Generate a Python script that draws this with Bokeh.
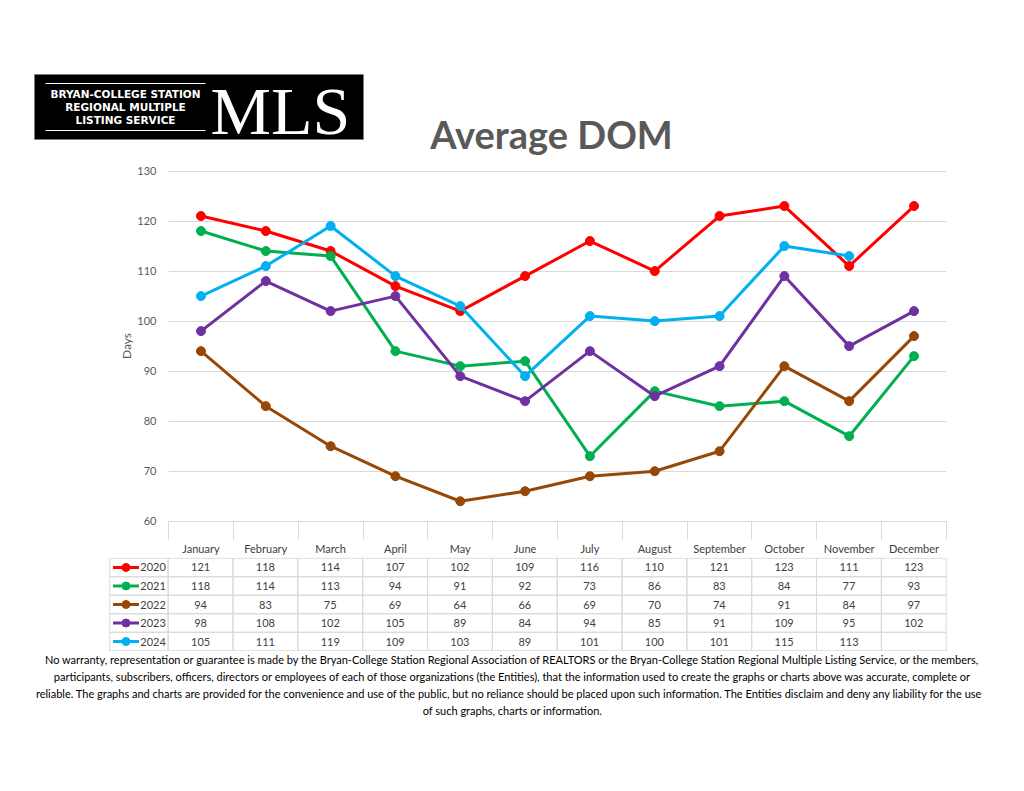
from bokeh.plotting import figure
from bokeh.models import Range1d, FixedTicker, ColumnDataSource
from bokeh.core.properties import value
from bokeh.embed import file_html
from bokeh.resources import INLINE

# ---------------- data ----------------
months = ["January", "February", "March", "April", "May", "June", "July",
          "August", "September", "October", "November", "December"]
years = ["2020", "2021", "2022", "2023", "2024"]
dom_2020 = [121, 118, 114, 107, 102, 109, 116, 110, 121, 123, 111, 123]
dom_2021 = [118, 114, 113, 94, 91, 92, 73, 86, 83, 84, 77, 93]
dom_2022 = [94, 83, 75, 69, 64, 66, 69, 70, 74, 91, 84, 97]
dom_2023 = [98, 108, 102, 105, 89, 84, 94, 85, 91, 109, 95, 102]
dom_2024 = [105, 111, 119, 109, 103, 89, 101, 100, 101, 115, 113]
y_ticks = [60, 70, 80, 90, 100, 110, 120, 130]
series = [dom_2020, dom_2021, dom_2022, dom_2023, dom_2024]
colors = ["#FF0000", "#00B050", "#974806", "#7030A0", "#00B0F0"]

title_text = "Average DOM"
logo_lines = ["BRYAN-COLLEGE STATION", "REGIONAL MULTIPLE", "LISTING SERVICE"]
disclaimer = [
    "No warranty, representation or guarantee is made by the Bryan-College Station Regional Association of REALTORS or the Bryan-College Station Regional Multiple Listing Service, or the members,",
    "participants, subscribers, officers, directors or employees of each of those organizations (the Entities), that the information used to create the graphs or charts above was accurate, complete or",
    "reliable.  The graphs and charts are provided for the convenience and use of the public, but no reliance should be placed upon such information.  The Entities disclaim and deny any liability for the use",
    "of such graphs, charts or information.",
]

FONT = "Lato"
W = 1024

# ---------------- header (logo + title) ----------------
HH = 160
hdr = figure(width=W, height=HH, x_range=Range1d(0, W), y_range=Range1d(HH, 0),
             output_backend="svg", toolbar_location=None,
             x_axis_location=None, y_axis_location=None, min_border=0)
hdr.outline_line_color = None
hdr.grid.visible = False
hdr.quad(left=[34], right=[363], top=[74], bottom=[139], fill_color="#000000",
         line_color="#7f7f7f", line_width=1)
hdr.segment(x0=[45, 45], x1=[205, 205], y0=[83, 130], y1=[83, 130],
            line_color="#ffffff", line_width=1)
hdr.text(x=[125, 125, 125], y=[93, 106, 119], text=logo_lines,
         text_font=value("DejaVu Sans"), text_font_style="bold",
         text_font_size="10.5px", text_color="#ffffff",
         text_align="center", text_baseline="middle")
hdr.text(x=[280], y=[110], text=["MLS"], text_font=value("Liberation Serif"),
         text_font_size="68px", text_color="#ffffff",
         text_align="center", text_baseline="middle")
hdr.text(x=[551], y=[133], text=[title_text], text_font=value(FONT),
         text_font_style="bold", text_font_size="38px", text_color="#595959",
         text_align="center", text_baseline="middle")

# ---------------- chart ----------------
p = figure(width=W, height=397, x_range=Range1d(-0.501, 11.501),
           y_range=Range1d(59.95, 130.1), output_backend="svg",
           toolbar_location=None, min_border_left=168, min_border_right=78,
           min_border_top=10, min_border_bottom=18)
p.outline_line_color = None
p.xgrid.visible = False
p.ygrid.grid_line_color = "#d9d9d9"
p.ygrid.grid_line_width = 1

p.yaxis.ticker = FixedTicker(ticks=y_ticks)
p.yaxis.axis_line_color = None
p.yaxis.major_tick_line_color = None
p.yaxis.minor_tick_line_color = None
p.yaxis.major_label_text_font = FONT
p.yaxis.major_label_text_font_size = "11px"
p.yaxis.major_label_text_color = "#595959"
p.yaxis.major_label_standoff = 6
p.yaxis.axis_label = "Days"
p.yaxis.axis_label_text_font = FONT
p.yaxis.axis_label_text_font_size = "12px"
p.yaxis.axis_label_text_font_style = "normal"
p.yaxis.axis_label_text_color = "#595959"
p.yaxis.axis_label_standoff = 0

p.xaxis.ticker = FixedTicker(ticks=list(range(len(months))),
                             minor_ticks=[i - 0.5 for i in range(len(months) + 1)])
p.xaxis.major_label_overrides = {i: m for i, m in enumerate(months)}
p.xaxis.axis_line_color = "#d9d9d9"
p.xaxis.major_tick_line_color = None
p.xaxis.major_tick_out = 0
p.xaxis.major_tick_in = 0
p.xaxis.minor_tick_out = 18
p.xaxis.minor_tick_in = 0
p.xaxis.minor_tick_line_color = "#d9d9d9"
p.xaxis.major_label_text_font = FONT
p.xaxis.major_label_text_font_size = "11px"
p.xaxis.major_label_text_color = "#404040"
p.xaxis.major_label_standoff = 2

for vals, col in zip(series, colors):
    src = ColumnDataSource(dict(x=list(range(len(vals))), y=vals))
    p.line("x", "y", source=src, line_width=3, line_color=col, line_join="round")
    p.scatter("x", "y", source=src, marker="circle", size=9,
              fill_color=col, line_color=col)

# ---------------- data table ----------------
TH = 94
t = figure(width=W, height=TH, x_range=Range1d(-1.42, 11.52),
           y_range=Range1d(len(years) + 0.04, -0.04), output_backend="svg",
           toolbar_location=None, x_axis_location=None, y_axis_location=None,
           min_border_left=108, min_border_right=77, min_border_top=0,
           min_border_bottom=0)
t.outline_line_color = None
t.grid.visible = False

left, right, top, bottom = [], [], [], []
tx, ty, tt = [], [], []
for r, vals in enumerate(series):
    left.append(-1.4); right.append(-0.5); top.append(r); bottom.append(r + 1)
    for c in range(len(months)):
        left.append(c - 0.5); right.append(c + 0.5); top.append(r); bottom.append(r + 1)
        if c < len(vals):
            tx.append(c); ty.append(r + 0.5); tt.append(str(vals[c]))
t.quad(left=left, right=right, top=top, bottom=bottom, fill_color=None,
       line_color="#d9d9d9", line_width=1)
t.text(x=tx, y=ty, text=tt, text_font=value(FONT), text_font_size="11px",
       text_color="#404040", text_align="center", text_baseline="middle")

rows = list(range(len(years)))
t.segment(x0=[-1.35] * len(rows), x1=[-0.95] * len(rows),
          y0=[r + 0.5 for r in rows], y1=[r + 0.5 for r in rows],
          line_color=colors, line_width=3)
t.scatter(x=[-1.15] * len(rows), y=[r + 0.5 for r in rows], size=8,
          marker="circle", fill_color=colors, line_color=colors)
t.text(x=[-0.93] * len(rows), y=[r + 0.5 for r in rows], text=years,
       text_font=value(FONT), text_font_size="11px", text_color="#404040",
       text_align="left", text_baseline="middle")

# ---------------- disclaimer ----------------
DH = 140
d = figure(width=W, height=DH, x_range=Range1d(0, W), y_range=Range1d(DH, 0),
           output_backend="svg", toolbar_location=None,
           x_axis_location=None, y_axis_location=None, min_border=0)
d.outline_line_color = None
d.grid.visible = False
d.text(x=[512] * len(disclaimer), y=[8 + 17 * i for i in range(len(disclaimer))],
       text=disclaimer, text_font=value(FONT), text_font_size="11px",
       text_color="#000000", text_align="center", text_baseline="middle")

open("out.html", "w").write(file_html([hdr, p, t, d], INLINE))
